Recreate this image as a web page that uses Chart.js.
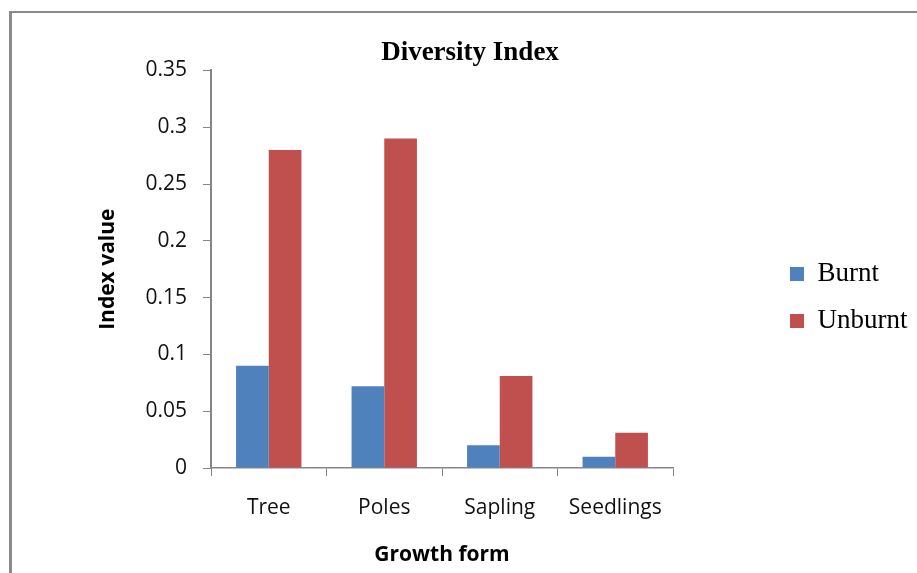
<!DOCTYPE html>
<html>
<head>
<meta charset="utf-8">
<script src="https://cdn.jsdelivr.net/npm/chart.js@4"></script>
<style>
  html, body { margin: 0; padding: 0; background: #fff; }
  #c { display: block; }
</style>
</head>
<body>
<canvas id="c" width="917" height="573"></canvas>
<script>
// Growth forms and diversity index per treatment
const categories = ['Tree', 'Poles', 'Sapling', 'Seedlings'];
const burnt = [0.09, 0.072, 0.02, 0.01];
const unburnt = [0.28, 0.29, 0.081, 0.031];
const yTickLabels = ['0', '0.05', '0.1', '0.15', '0.2', '0.25', '0.3', '0.35'];

const AXIS_GREY = '#868686';

// Grey frame along the left and top edges of the figure
const framePlugin = {
  id: 'frame',
  beforeDraw(chart) {
    const ctx = chart.ctx;
    ctx.save();
    ctx.fillStyle = '#ffffff';
    ctx.fillRect(0, 0, chart.width, chart.height);
    ctx.strokeStyle = '#8a8a8a';
    ctx.lineWidth = 3;
    ctx.beginPath();
    ctx.moveTo(10.5, chart.height);
    ctx.lineTo(10.5, 11);
    ctx.stroke();
    ctx.lineWidth = 2;
    ctx.beginPath();
    ctx.moveTo(9, 12);
    ctx.lineTo(chart.width, 12);
    ctx.stroke();
    ctx.restore();
  }
};

// Legend keeps a fixed strip on the right and sits a little below centre
const legendPlacement = {
  id: 'legendPlacement',
  beforeLayout(chart) {
    const lg = chart.legend;
    if (lg && !lg._fixedFit) {
      const fit = lg.fit.bind(lg);
      lg.fit = function () { fit(); this.width = 244; };
      lg._fixedFit = true;
    }
  },
  afterLayout(chart) {
    const lg = chart.legend;
    const w = lg.width, h = lg.height;
    lg.left = 770;
    lg.right = lg.left + w;
    lg.top = 240.5;
    lg.bottom = lg.top + h;
  }
};

new Chart(document.getElementById('c'), {
  type: 'bar',
  data: {
    labels: categories,
    datasets: [
      { label: 'Burnt', data: burnt, backgroundColor: '#4F81BD', borderWidth: 0 },
      { label: 'Unburnt', data: unburnt, backgroundColor: '#C0504D', borderWidth: 0 }
    ]
  },
  options: {
    responsive: false,
    animation: false,
    devicePixelRatio: 1,
    layout: { padding: { left: 23, right: 0, top: 0, bottom: 0 } },
    datasets: { bar: { categoryPercentage: 0.566, barPercentage: 1.0 } },
    plugins: {
      title: {
        display: true,
        text: 'Diversity Index',
        color: '#000',
        font: { family: 'Liberation Serif', size: 27, weight: 'bold' },
        padding: { top: 37, bottom: 1 }
      },
      legend: {
        position: 'right',
        align: 'start',
        labels: {
          boxWidth: 14,
          boxHeight: 14,
          padding: 20,
          color: '#000',
          font: { family: 'Liberation Serif', size: 27 }
        }
      },
      tooltip: { enabled: false }
    },
    scales: {
      x: {
        afterFit(scale) { scale.height = 105; },
        grid: { display: true, drawOnChartArea: false, drawTicks: true, tickLength: 8, color: AXIS_GREY, offset: true },
        border: { display: true, color: AXIS_GREY, width: 1.5 },
        ticks: { color: '#111', padding: 19, font: { family: 'Open Sans', size: 21 } },
        title: {
          display: true,
          text: 'Growth form',
          color: '#000',
          font: { family: 'Open Sans', size: 21, weight: 'bold' },
          padding: { top: 0, bottom: 5 }
        }
      },
      y: {
        min: 0,
        max: 0.35,
        afterFit(scale) { scale.width = 188; },
        grid: { display: true, drawOnChartArea: false, drawTicks: true, tickLength: 8, color: AXIS_GREY },
        border: { display: true, color: AXIS_GREY, width: 2 },
        ticks: {
          stepSize: 0.05,
          color: '#111',
          padding: 16,
          font: { family: 'Open Sans', size: 21 },
          callback: (value, index) => yTickLabels[index]
        },
        title: {
          display: true,
          text: 'Index value',
          color: '#000',
          font: { family: 'Open Sans', size: 21, weight: 'bold' },
          padding: { top: 72, bottom: 0 }
        }
      }
    }
  },
  plugins: [framePlugin, legendPlacement]
});
</script>
</body>
</html>
